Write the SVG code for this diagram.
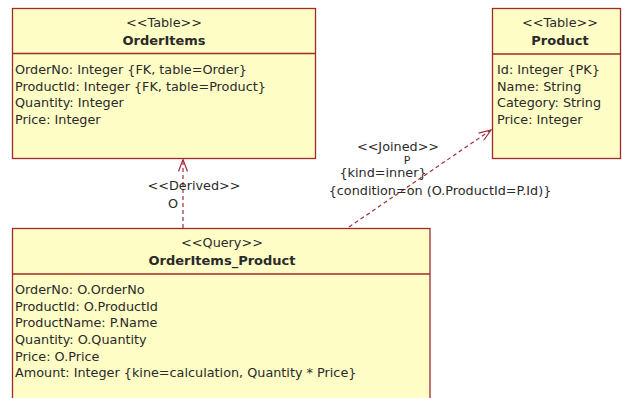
<svg xmlns="http://www.w3.org/2000/svg" width="622" height="398" viewBox="0 0 622 398">
<defs>
<style>
.box{fill:#FFFDC6;stroke:#9E2B2B;stroke-width:1.3}
.div{stroke:#9E2B2B;stroke-width:1.3}
text{font-family:"DejaVu Sans",sans-serif;font-size:12.8px;fill:#2A2A2A}
.c{text-anchor:middle}
.b{font-weight:bold;font-size:13px}
.s{font-size:11px}
.con{fill:none;stroke:#A0303A;stroke-width:1.2;stroke-dasharray:4 3}
</style>
<marker id="open" viewBox="0 0 14 10" refX="13" refY="5" markerWidth="14" markerHeight="10" markerUnits="userSpaceOnUse" orient="auto">
<path d="M1,0.5 L13,5 L1,9.5" fill="none" stroke="#A0303A" stroke-width="1.2"/>
</marker>
</defs>
<rect width="622" height="398" fill="#FFFFFF"/>
<g id="connectors">
<line class="con" x1="183" y1="228" x2="183" y2="159.5" marker-end="url(#open)"/>
<line class="con" x1="349" y1="227" x2="491" y2="130" marker-end="url(#open)"/>
<text class="c" x="194" y="190">&lt;&lt;Derived&gt;&gt;</text>
<text class="c" x="173" y="208">O</text>
<text class="c" x="398" y="151">&lt;&lt;Joined&gt;&gt;</text>
<text class="c s" x="407" y="164">P</text>
<text class="c" x="383" y="176.5">{kind=inner}</text>
<text class="c" x="440" y="195">{condition=on (O.ProductId=P.Id)}</text>
</g>
<g id="OrderItems">
<rect class="box" x="12.5" y="8.5" width="303" height="150"/>
<line class="div" x1="12.5" y1="53.5" x2="315.5" y2="53.5"/>
<text class="c" x="164" y="27">&lt;&lt;Table&gt;&gt;</text>
<text class="c b" x="164" y="45">OrderItems</text>
<text x="15" y="74">OrderNo: Integer {FK, table=Order}</text>
<text x="15" y="90.7">ProductId: Integer {FK, table=Product}</text>
<text x="15" y="107.4">Quantity: Integer</text>
<text x="15" y="124">Price: Integer</text>
</g>
<g id="Product">
<rect class="box" x="492.5" y="8.5" width="128" height="150"/>
<line class="div" x1="492.5" y1="54" x2="620.5" y2="54"/>
<text class="c" x="560" y="27">&lt;&lt;Table&gt;&gt;</text>
<text class="c b" x="560" y="45">Product</text>
<text x="497" y="74">Id: Integer {PK}</text>
<text x="497" y="90.7">Name: String</text>
<text x="497" y="107.4">Category: String</text>
<text x="497" y="124">Price: Integer</text>
</g>
<g id="OrderItems_Product">
<rect class="box" x="12.5" y="228.5" width="417.5" height="180"/>
<line class="div" x1="12.5" y1="274" x2="430" y2="274"/>
<text class="c" x="222" y="247">&lt;&lt;Query&gt;&gt;</text>
<text class="c b" x="222" y="265">OrderItems_Product</text>
<text x="15" y="294">OrderNo: O.OrderNo</text>
<text x="15" y="310.7">ProductId: O.ProductId</text>
<text x="15" y="327.4">ProductName: P.Name</text>
<text x="15" y="344">Quantity: O.Quantity</text>
<text x="15" y="360.7">Price: O.Price</text>
<text x="15" y="377.4">Amount: Integer {kine=calculation, Quantity * Price}</text>
</g>
</svg>
